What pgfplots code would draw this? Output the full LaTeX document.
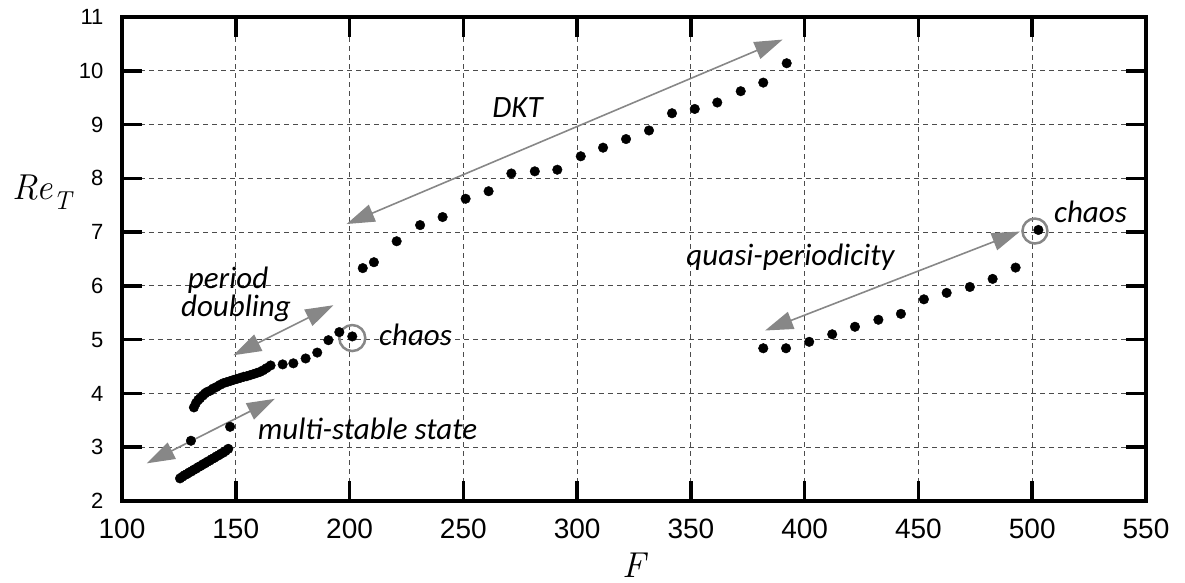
\documentclass[border=0pt]{standalone}
\usepackage{fontspec}
\usepackage{graphicx}
\usepackage{pgfplots}
\pgfplotsset{compat=1.18}
\usetikzlibrary{arrows.meta,calc}
\newfontfamily\arialf{Liberation Sans}
\newfontfamily\calibf{Carlito}
\definecolor{arrgray}{RGB}{135,135,135}
\tikzset{ann/.style={font=\fontsize{31}{34}\selectfont\calibf\itshape, inner sep=0pt},
  dbl/.style={arrgray, line width=1.6pt, {Triangle[length=28pt,width=18pt]}-{Triangle[length=28pt,width=18pt]}},
  tk/.style={line width=3.5pt, black}}
\begin{document}
\begin{tikzpicture}
\begin{axis}[
  name=ax,
  scale only axis, width=1024pt, height=484pt,
  xmin=100, xmax=550, ymin=2, ymax=11,
  xtick={100,150,...,550}, ytick={2,3,...,11},
  grid=major,
  major grid style={black!70, line width=1pt, dash pattern=on 5pt off 4pt},
  axis line style={line width=3.5pt, black},
  major tick length=20pt, tick align=inside,
  /pgf/number format/assume math mode=true,
  xticklabel style={font=\fontsize{28}{30}\selectfont\arialf, yshift=-14pt},
  yticklabel style={font=\fontsize{22}{24}\selectfont\arialf, xshift=-15pt},
  xlabel={\itshape F}, ylabel={\itshape Re\raisebox{-0.3em}{\fontsize{26}{28}\selectfont T}},
  xlabel style={font=\fontsize{36}{40}\selectfont, at={(rel axis cs:0.5,-0.132)}, anchor=center},
  ylabel style={font=\fontsize{36}{40}\selectfont, rotate=-90, at={(rel axis cs:-0.078,0.638)}, anchor=center},
  clip=false,
]
% DKT branch
\addplot[only marks, mark=*, mark size=4.8pt, black] coordinates {
(205.8,6.33)(210.7,6.44)(220.7,6.83)(231.0,7.13)(240.9,7.28)(251.0,7.62)(261.1,7.76)
(271.1,8.09)(281.4,8.13)(291.3,8.16)(301.6,8.41)(311.4,8.57)(321.5,8.73)(331.6,8.89)
(341.7,9.21)(351.7,9.29)(361.6,9.41)(371.9,9.62)(381.8,9.78)(392.1,10.14)};
% quasi-periodicity branch
\addplot[only marks, mark=*, mark size=4.8pt, black] coordinates {
(381.8,4.84)(391.8,4.84)(402.0,4.96)(412.1,5.10)(422.1,5.24)(432.4,5.37)(442.3,5.48)
(452.4,5.75)(462.4,5.87)(472.6,5.98)(482.6,6.13)(492.7,6.34)(502.7,7.04)};
% lower cluster
\addplot[only marks, mark=*, mark size=4.8pt, black] coordinates {
(125.5,2.42)(126.5,2.45)(127.5,2.48)(128.5,2.50)(129.5,2.53)(130.5,2.55)(131.5,2.58)
(132.5,2.60)(133.5,2.63)(134.5,2.65)(135.5,2.68)(136.5,2.70)(137.5,2.73)(138.5,2.75)
(139.5,2.78)(140.5,2.80)(141.5,2.83)(142.5,2.85)(143.5,2.88)(144.5,2.90)(145.5,2.93)(146.7,2.97)
(130.3,3.12)(147.5,3.38)};
% upper cluster and period doubling
\addplot[only marks, mark=*, mark size=4.8pt, black] coordinates {
(131.6,3.74)(132.5,3.82)(133.5,3.88)(134.3,3.91)(135.5,3.96)(136.5,4.00)(137.5,4.03)
(138.7,4.05)(140.0,4.09)(141.5,4.12)(143.1,4.16)(144.5,4.19)(146.0,4.21)(147.5,4.23)
(148.9,4.25)(150.5,4.27)(152.0,4.29)(153.5,4.31)(154.8,4.32)(156.3,4.34)(157.8,4.36)
(159.2,4.38)(160.6,4.40)(162.0,4.43)(163.5,4.47)(165.3,4.52)
(170.6,4.54)(175.3,4.56)(180.7,4.65)(185.8,4.76)(190.7,4.99)(195.5,5.14)(201.2,5.06)};
% frame and inward ticks
\draw[tk] (rel axis cs:0,0) rectangle (rel axis cs:1,1);
\pgfplotsinvokeforeach{150,200,250,300,350,400,450,500}{
  \draw[tk] (axis cs:#1,2) -- ([yshift=20pt]axis cs:#1,2);
  \draw[tk] (axis cs:#1,11) -- ([yshift=-20pt]axis cs:#1,11);
}
\pgfplotsinvokeforeach{3,4,5,6,7,8,9,10}{
  \draw[tk] (axis cs:100,#1) -- ([xshift=20pt]axis cs:100,#1);
  \draw[tk] (axis cs:550,#1) -- ([xshift=-20pt]axis cs:550,#1);
}
% annotations
\draw[dbl] (axis cs:198.7,7.15) -- (axis cs:390.3,10.58);
\draw[dbl] (axis cs:148.9,4.71) -- (axis cs:192.9,5.64);
\draw[dbl] (axis cs:110.9,2.70) -- (axis cs:167.2,3.90);
\draw[dbl] (axis cs:382.6,5.17) -- (axis cs:494.6,7.01);
\draw[arrgray, line width=2.5pt] (axis cs:201.2,5.03) circle[radius=13pt];
\draw[arrgray, line width=2.5pt] (axis cs:501.2,7.02) circle[radius=12.5pt];
\node[ann, anchor=base] at (axis cs:273.8,9.13) {DKT};
\node[ann, anchor=base] at (axis cs:146.6,5.96) {period};
\node[ann, anchor=base] at (axis cs:150.1,5.43) {doubling};
\node[ann, anchor=base] at (axis cs:229.0,4.90) {chaos};
\node[ann, anchor=base] at (axis cs:207.9,3.15) {multi-stable state};
\node[ann, anchor=base] at (axis cs:393.8,6.38) {quasi-periodicity};
\node[ann, anchor=base] at (axis cs:525.6,7.17) {chaos};
\end{axis}
\pgfresetboundingbox
\path[use as bounding box] ($(ax.south west)+(-122pt,-82pt)$) rectangle ($(ax.north east)+(39pt,17pt)$);
\end{tikzpicture}
\end{document}
